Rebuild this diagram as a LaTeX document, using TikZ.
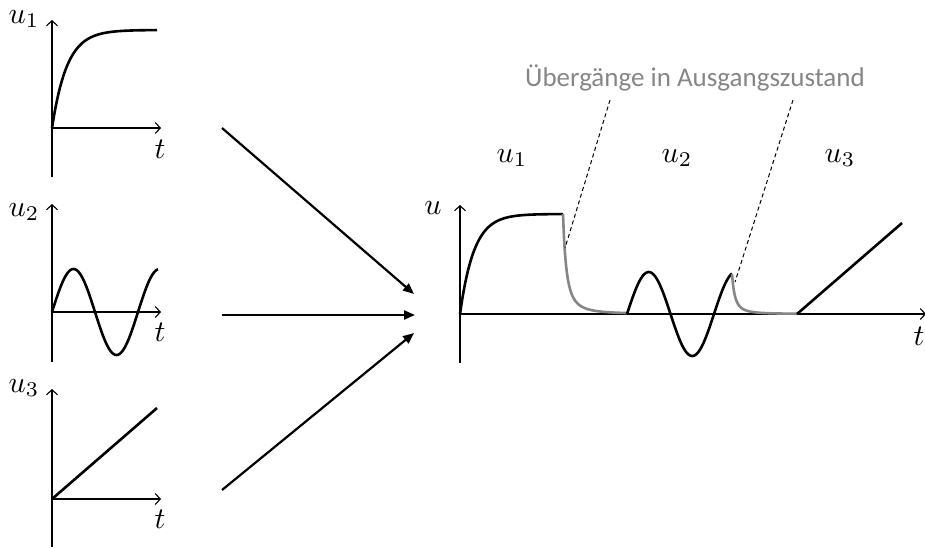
\documentclass[tikz,border=0pt]{standalone}
\usepackage{fontspec}
\newfontfamily\calib{Carlito}
\usetikzlibrary{arrows.meta}
\begin{document}
\begin{tikzpicture}[x=1pt,y=-1pt,
  axis/.style={line width=1.3pt,-{Straight Barb[length=5pt,width=11pt,line width=1.1pt]}},
  curve/.style={line width=2.6pt,line join=round},
  decay/.style={line width=2.6pt,color=gray!95,line join=round},
  flow/.style={line width=2.2pt,-{Triangle[length=11pt,width=9pt]}},
  lead/.style={line width=1pt,dashed,dash pattern=on 4pt off 3pt},
  lbl/.style={inner sep=0pt,scale=3.0},
  note/.style={inner sep=0pt,text=gray!95,font=\calib\fontsize{27}{30}\selectfont}]
\useasboundingbox (0,0) rectangle (925,547);
% ---- small plot 1
\coordinate (o1) at (52,128);
\coordinate (y1b) at (52,177);
\coordinate (y1t) at (52,20);
\coordinate (x1e) at (161,128);
\draw[axis] (y1b) -- (y1t);
\draw[axis] (o1) -- (x1e);
\draw[curve] plot[domain=52:157,samples=60,smooth] (\x,{128-98*(1-exp(-(\x-52)/15))});
\node[lbl] (lu1) at (24,19) {$u_1$};
\node[lbl] (lt1) at (160,149) {$t$};
% ---- small plot 2
\coordinate (o2) at (52,312);
\coordinate (y2b) at (52,362);
\coordinate (y2t) at (52,204);
\coordinate (x2e) at (161,312);
\draw[axis] (y2b) -- (y2t);
\draw[axis] (o2) -- (x2e);
\draw[curve] plot[domain=52:158,samples=90,smooth] (\x,{312-43*sin((\x-52)*4.186)});
\node[lbl] (lu2) at (24,212) {$u_2$};
\node[lbl] (lt2) at (160,332) {$t$};
% ---- small plot 3
\coordinate (o3) at (52,499);
\coordinate (y3b) at (52,547);
\coordinate (y3t) at (52,389);
\coordinate (x3e) at (161,499);
\coordinate (r3e) at (157,408);
\draw[axis] (y3b) -- (y3t);
\draw[axis] (o3) -- (x3e);
\draw[curve] (o3) -- (r3e);
\node[lbl] (lu3) at (24,388) {$u_3$};
\node[lbl] (lt3) at (160,519) {$t$};
% ---- arrows
\coordinate (a1s) at (222,128);
\coordinate (a1e) at (414,294);
\coordinate (a2s) at (222,315);
\coordinate (a2e) at (415,315);
\coordinate (a3s) at (222,490);
\coordinate (a3e) at (414,333);
\draw[flow] (a1s) -- (a1e);
\draw[flow] (a2s) -- (a2e);
\draw[flow] (a3s) -- (a3e);
% ---- main plot
\coordinate (mo) at (460,314);
\coordinate (myb) at (460,363);
\coordinate (myt) at (460,205);
\coordinate (mxe) at (926,314);
\draw[axis] (myb) -- (myt);
\draw[axis] (mo) -- (mxe);
\node[lbl] (lu) at (433,208) {$u$};
\node[lbl,anchor=west] (lt) at (913,336) {$t$};
\draw[curve] plot[domain=460:563,samples=60,smooth] (\x,{314-100*(1-exp(-(\x-460)/14))});
\draw[decay] plot[domain=563:627,samples=80,smooth] (\x,{314-100/((1+(\x-563)/7)^2)});
\draw[curve] plot[domain=627:732,samples=90,smooth] (\x,{314-42*sin((\x-627)*4.138)});
\draw[decay] plot[domain=732:797,samples=80,smooth] (\x,{314-40/((1+(\x-732)/6)^2)});
\coordinate (r0) at (797,314);
\coordinate (r1) at (902,223);
\draw[curve] (r0) -- (r1);
\node[lbl] (mu1) at (512,158) {$u_1$};
\node[lbl] (mu2) at (677,158) {$u_2$};
\node[lbl] (mu3) at (840,158) {$u_3$};
\node[note] (nt) at (695,78) {Übergänge in Ausgangszustand};
\coordinate (d1s) at (610,100);
\coordinate (d1e) at (565,248);
\coordinate (d2s) at (793,100);
\coordinate (d2e) at (735,282);
\draw[lead] (d1s) -- (d1e);
\draw[lead] (d2s) -- (d2e);
\end{tikzpicture}
\end{document}
